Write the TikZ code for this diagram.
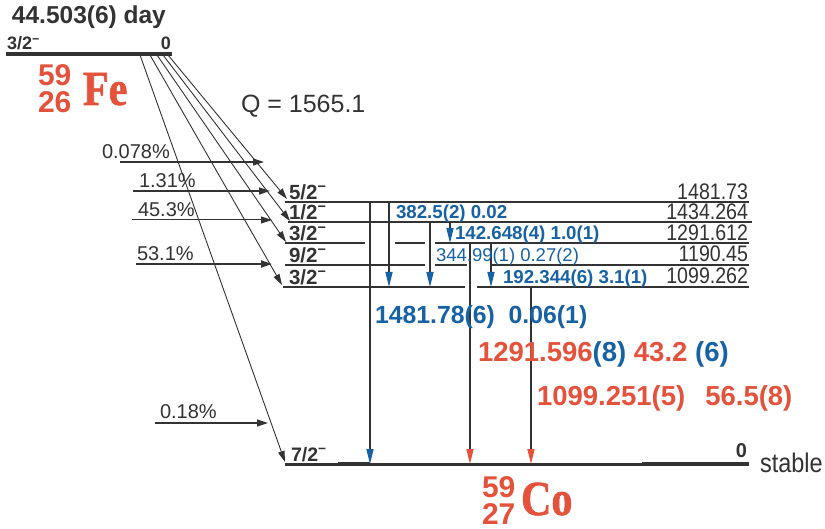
\documentclass[tikz,border=0pt]{standalone}
\usepackage{fontspec}
\setmainfont{Liberation Sans}
\newfontfamily\elemfont[FakeStretch=0.86,FakeBold=1.2]{Liberation Serif}
\newfontfamily\condfont[FakeStretch=0.87]{Liberation Sans}
\usetikzlibrary{arrows.meta}
\definecolor{dk}{RGB}{51,51,51}
\definecolor{gblue}{RGB}{22,98,164}
\definecolor{gred}{RGB}{228,82,60}
\newcommand{\setfs}[1]{\fontsize{#1}{#1}\selectfont}
\newcommand{\mn}{\textsuperscript{−}}
\begin{document}
\begin{tikzpicture}[x=1pt,y=-1pt,
  lbl/.style={inner sep=0pt,outer sep=0pt,text=dk,anchor=base west},
  lblr/.style={lbl,anchor=base east},
  spin/.style={lbl,font=\setfs{20.5}\bfseries},
  en/.style={lblr,font=\condfont\setfs{22.5}},
  pct/.style={lbl,font=\setfs{20}},
  glab/.style={lbl,text=gblue,font=\setfs{18.7}\bfseries},
  lv/.style={draw=dk,line width=2.2pt},
  beta/.style={draw=dk,line width=0.9pt,-{Triangle[length=11pt,width=6.5pt]}},
  feed/.style={draw=dk,-{Triangle[length=11pt,width=7pt]}},
  gamb/.style={draw=dk,line width=1.5pt,-{Triangle[length=15pt,width=7pt,color=gblue]}},
  gamr/.style={draw=dk,line width=1.5pt,-{Triangle[length=15pt,width=7pt,color=gred]}},
  elnum/.style={lbl,text=gred,align=left,font=\fontsize{30}{27}\selectfont\bfseries},
  elsym/.style={lbl,text=gred,font=\elemfont\setfs{49}\bfseries}
]
\fill[white] (0,0) rectangle (825,529);
\useasboundingbox (0,0) rectangle (825,529);

% ---------- parent 59Fe ----------
\node[lbl,font=\setfs{24.5}\bfseries] (title) at (12,24) {44.503(6) day};
\node[lbl,font=\setfs{18}\bfseries] (pspin) at (7,50) {3/2\mn};
\node[lblr,font=\setfs{18}\bfseries] (pzero) at (171,50) {0};
\coordinate (FeW) at (6,54);
\coordinate (FeE) at (172,54);
\draw[draw=dk,line width=3.3pt] (FeW) -- (FeE);
\node[elnum] (fenum) at (38,113) {59\\26};
\node[elsym] (fesym) at (83,105) {Fe};
\node[lbl,font=\setfs{25}] (Q) at (241,113) {Q = 1565.1};

% ---------- daughter levels ----------
\coordinate (A1) at (285,202);  \coordinate (A2) at (749,202);
\coordinate (B1) at (288,222);  \coordinate (B2) at (752,222);
\coordinate (C1) at (285,243);  \coordinate (C2) at (365,243);
\coordinate (C3) at (395,243);  \coordinate (C4) at (425,243);
\coordinate (C5) at (435,243);  \coordinate (C6) at (749,243);
\coordinate (D1) at (285,265);  \coordinate (D2) at (425,265);
\coordinate (D3) at (435,265);  \coordinate (D4) at (467,265);
\coordinate (D5) at (492,265);  \coordinate (D6) at (749,265);
\coordinate (E1) at (283,287);  \coordinate (E2) at (465,287);
\coordinate (E3) at (477,287);  \coordinate (E4) at (749,287);
\coordinate (G1) at (285,464);  \coordinate (G2) at (749,464);
\coordinate (Gt1) at (338,464); \coordinate (Gt2) at (370,464);
\coordinate (Gt3) at (642,464);

\draw[lv] (A1) -- (A2);
\draw[lv] (B1) -- (B2);
\draw[lv] (C1) -- (C2) (C3) -- (C4) (C5) -- (C6);
\draw[lv] (D1) -- (D2) (D3) -- (D4) (D5) -- (D6);
\draw[lv] (E1) -- (E2) (E3) -- (E4);
\draw[draw=dk,line width=3pt] (G1) -- (G2);
\draw[draw=dk,line width=4.5pt] (Gt1) -- (Gt2) (Gt3) -- (G2);

% spins
\node[spin] (s1) at (289,199.5) {5/2\mn};
\node[spin] (s2) at (289,219.5) {1/2\mn};
\node[spin] (s3) at (289,240.5) {3/2\mn};
\node[spin] (s4) at (289,262.5) {9/2\mn};
\node[spin] (s5) at (289,284.5) {3/2\mn};
\node[spin,font=\setfs{19.5}\bfseries] (s0) at (291,461) {7/2\mn};

% energies
\node[en] (e1) at (748,200) {1481.73};
\node[en] (e2) at (748,219.5) {1434.264};
\node[en] (e3) at (748,241) {1291.612};
\node[en] (e4) at (748,262) {1190.45};
\node[en] (e5) at (748,284) {1099.262};
\node[lblr,font=\setfs{20}\bfseries] (e0) at (747,457) {0};
\node[lbl,font=\condfont\setfs{27}] (stable) at (760,472) {stable};

% ---------- beta branches ----------
\coordinate (b1s) at (168,55); \coordinate (b1e) at (287,199);
\coordinate (b2s) at (163,55); \coordinate (b2e) at (290,221);
\coordinate (b3s) at (157,55); \coordinate (b3e) at (286,242);
\coordinate (b4s) at (150,55); \coordinate (b4e) at (282,285);
\coordinate (b5s) at (140,55); \coordinate (b5e) at (285,462);
\draw[beta] (b1s) -- (b1e);
\draw[beta] (b2s) -- (b2e);
\draw[beta] (b3s) -- (b3e);
\draw[beta] (b4s) -- (b4e);
\draw[beta] (b5s) -- (b5e);

\coordinate (f1s) at (120,162); \coordinate (f1e) at (264,162);
\coordinate (f2s) at (133,191); \coordinate (f2e) at (270,191);
\coordinate (f3s) at (132,220); \coordinate (f3e) at (272,220);
\coordinate (f4s) at (136,264); \coordinate (f4e) at (272,264);
\coordinate (f5s) at (155,423); \coordinate (f5e) at (268,423);
\draw[feed,line width=1.2pt] (f1s) -- (f1e);
\draw[feed,line width=1.5pt] (f2s) -- (f2e);
\draw[feed,line width=1.0pt] (f3s) -- (f3e);
\draw[feed,line width=2.0pt] (f4s) -- (f4e);
\draw[feed,line width=1.2pt] (f5s) -- (f5e);
\node[pct] (p1) at (102,159) {0.078\%};
\node[pct] (p2) at (139,188) {1.31\%};
\node[pct] (p3) at (138,217) {45.3\%};
\node[pct] (p4) at (137,261) {53.1\%};
\node[pct] (p5) at (160,418) {0.18\%};

% ---------- gamma transitions ----------
\coordinate (y1s) at (370,202); \coordinate (y1e) at (370,464);
\coordinate (y2s) at (389,202); \coordinate (y2e) at (389,287);
\coordinate (y3s) at (430,222); \coordinate (y3e) at (430,287);
\coordinate (y4s) at (450,222); \coordinate (y4e) at (450,243);
\coordinate (y5s) at (491,243); \coordinate (y5e) at (491,287);
\coordinate (y6s) at (470,243); \coordinate (y6e) at (470,464);
\coordinate (y7s) at (531,287); \coordinate (y7e) at (531,464);
\draw[gamb] (y1s) -- (y1e);
\draw[gamb] (y2s) -- (y2e);
\draw[gamb] (y3s) -- (y3e);
\draw[gamb] (y4s) -- (y4e);
\draw[gamb] (y5s) -- (y5e);
\draw[gamr] (y6s) -- (y6e);
\draw[gamr] (y7s) -- (y7e);

\node[glab] (t1) at (396,219) {382.5(2) 0.02};
\node[glab] (t2) at (455,240) {142.648(4) 1.0(1)};
\node[glab,font=\setfs{18.5}] (t3) at (436,261.5) {344.99(1) 0.27(2)};
\node[glab] (t4) at (503,283.5) {192.344(6) 3.1(1)};
\node[glab,font=\setfs{24.8}\bfseries] (t5) at (375,324) {1481.78(6)\ \ 0.06(1)};
\node[lbl,font=\setfs{27.5}\bfseries] (t6) at (478,361.5)
  {\textcolor{gred}{1291.596}\textcolor{gblue}{(8)}\ \textcolor{gred}{43.2}\ \textcolor{gblue}{(6)}};
\node[lbl,text=gred,font=\setfs{27.5}\bfseries] (t7) at (537,406) {1099.251(5)\hspace{20pt}56.5(8)};

% ---------- 59Co ----------
\node[elnum] (conum) at (482,524) {59\\27};
\node[elsym] (cosym) at (521,515) {Co};
\end{tikzpicture}
\end{document}
